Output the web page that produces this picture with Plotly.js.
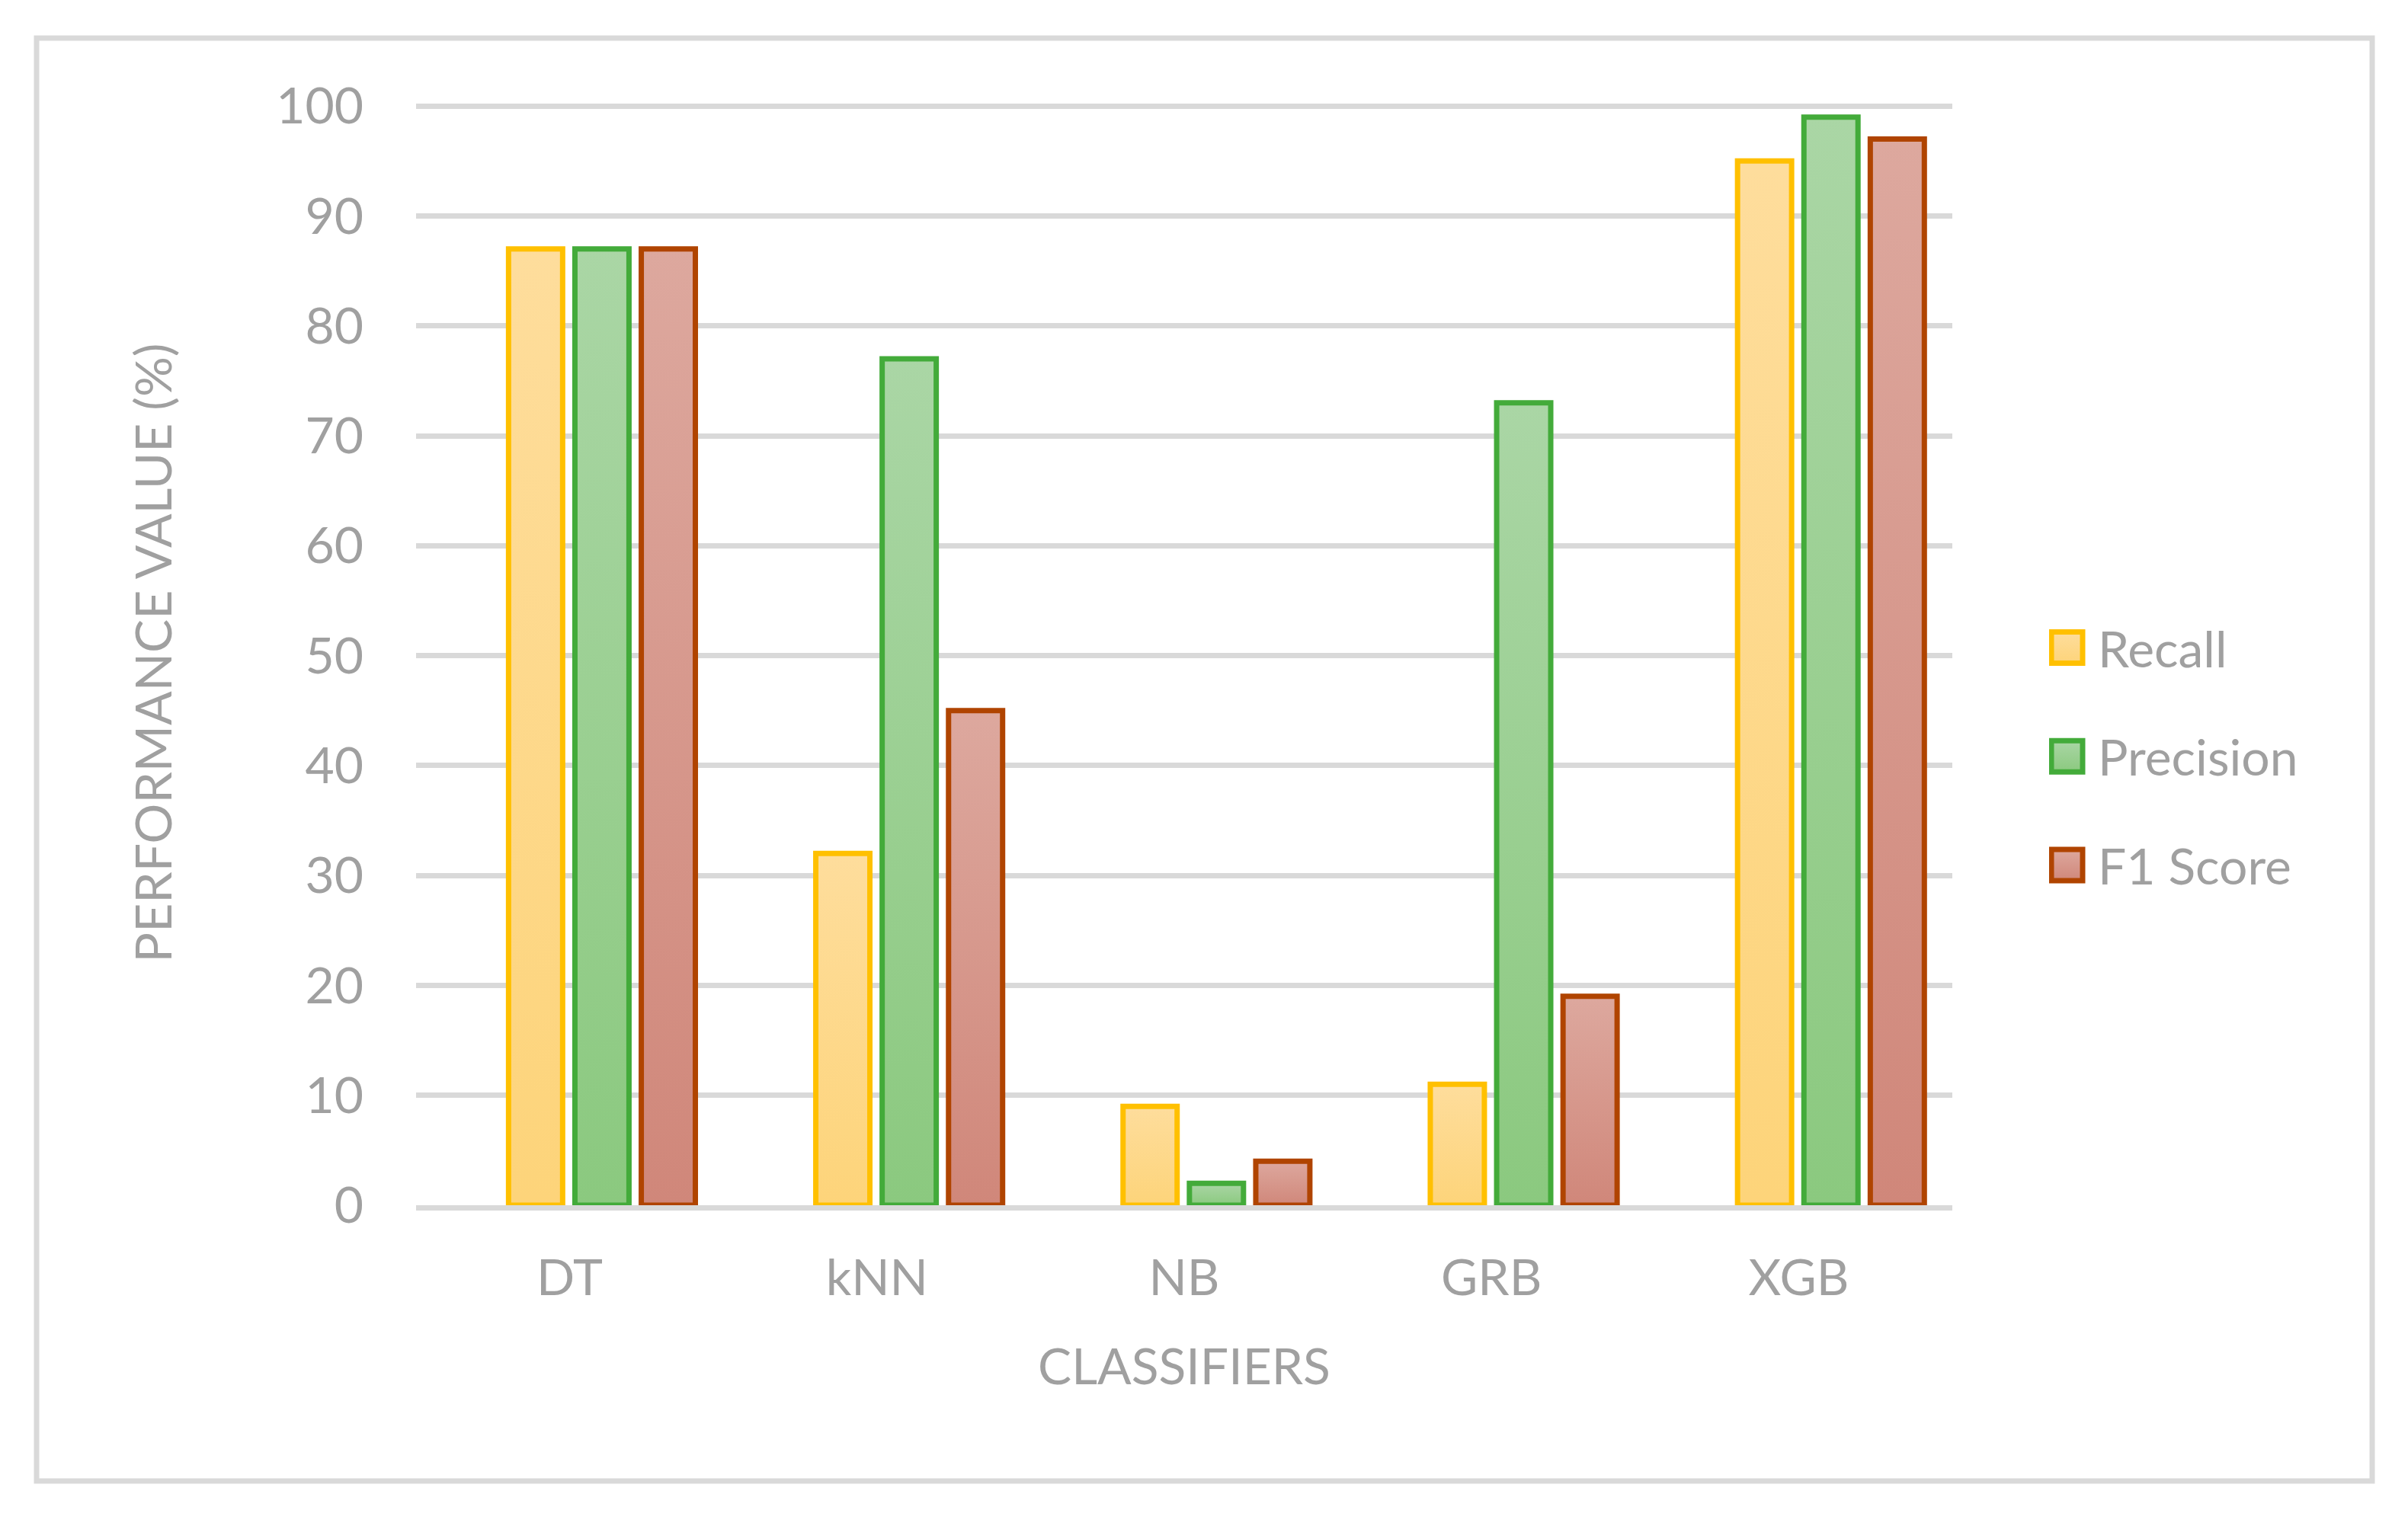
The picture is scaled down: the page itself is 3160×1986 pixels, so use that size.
<!DOCTYPE html>
<html>
<head>
<meta charset="utf-8">
<script src="https://cdn.plot.ly/plotly-3.0.1.min.js"></script>
<style>
html,body{margin:0;padding:0;background:#fff;}
#chart{width:3160px;height:1986px;}
</style>
</head>
<body>
<div id="chart"></div>
<script>
// ---- data ----
const categories = ['DT', 'kNN', 'NB', 'GRB', 'XGB'];
const seriesNames = ['Recall', 'Precision', 'F1 Score'];
const recall = [87, 32, 9, 11, 95];
const precision = [87, 77, 2, 73, 99];
const f1Score = [87, 45, 4, 19, 97];
const yTickVals = [0, 10, 20, 30, 40, 50, 60, 70, 80, 90, 100];
const xTitle = 'CLASSIFIERS';
const yTitle = 'PERFORMANCE VALUE (%)';

// ---- styles ----
const lineColors = ['#FFC000', '#43AB3A', '#B04400'];
const fillColors = ['#FDD98C', '#9CD094', '#D69888'];
const gradStops = [
  ['#FEDD9C', '#FDD47A'],
  ['#AAD6A5', '#8BC97F'],
  ['#DDA89E', '#D0877A']
];
const offsets = [-0.199, 0.017, 0.233];
const barWidth = 0.176;
const seriesValues = [recall, precision, f1Score];

const textColor = '#A0A0A0';
const fontFamily = "Lato, 'Open Sans', 'DejaVu Sans', sans-serif";
const fs = 66;

const traces = seriesValues.map((vals, i) => ({
  type: 'bar',
  name: seriesNames[i],
  x: categories,
  y: vals,
  offset: offsets[i],
  width: barWidth,
  legendgroup: 'g' + i,
  marker: {color: fillColors[i], line: {color: lineColors[i], width: 7}},
  hoverinfo: 'x+y+name'
}));

const W = 3160, H = 1986;
const mL = 546, mR = 598, mT = 132, mB = 404;
const pw = W - mL - mR, ph = H - mT - mB;
const px2x = p => (p - mL) / pw;
const px2y = p => (H - mB - p) / ph;

const layout = {
  width: W, height: H,
  margin: {l: mL, r: mR, t: mT, b: mB, pad: 0},
  paper_bgcolor: '#FFFFFF',
  plot_bgcolor: '#FFFFFF',
  font: {family: fontFamily, size: fs, color: textColor},
  barmode: 'overlay',
  showlegend: true,
  legend: {
    x: px2x(2689), xanchor: 'left',
    y: px2y(993), yanchor: 'middle',
    font: {family: fontFamily, size: fs, color: textColor},
    itemwidth: 54,
    tracegroupgap: 54,
    bgcolor: 'rgba(0,0,0,0)'
  },
  xaxis: {
    type: 'category',
    range: [-0.5, 4.5],
    showgrid: false,
    zeroline: false,
    showline: true,
    linecolor: '#D9D9D9',
    linewidth: 7,
    layer: 'above traces',
    ticks: '',
    ticklabelstandoff: 32,
    tickfont: {family: fontFamily, size: fs, color: textColor},
    title: {text: xTitle, standoff: 60, font: {family: fontFamily, size: fs, color: textColor}},
    fixedrange: true
  },
  yaxis: {
    range: [0, 100.5],
    tickvals: yTickVals,
    ticktext: yTickVals.map(String),
    showgrid: true,
    gridcolor: '#D9D9D9',
    gridwidth: 7,
    zeroline: false,
    showline: false,
    ticks: '',
    ticklabelstandoff: 68,
    tickfont: {family: fontFamily, size: fs, color: textColor},
    title: {text: yTitle, standoff: 115, font: {family: fontFamily, size: fs, color: textColor}},
    fixedrange: true
  },
  shapes: [{
    type: 'rect', xref: 'paper', yref: 'paper', layer: 'below',
    x0: px2x(48), x1: px2x(3113), y0: px2y(1944), y1: px2y(50),
    line: {color: '#D9D9D9', width: 7}, fillcolor: 'rgba(0,0,0,0)'
  }]
};

const gd = document.getElementById('chart');
Plotly.newPlot(gd, traces, layout, {displayModeBar: false, staticPlot: true}).then(() => {
  const svgNS = 'http://www.w3.org/2000/svg';
  const svg = gd.querySelector('svg.main-svg');
  let defs = svg.querySelector('defs');
  if (!defs) { defs = document.createElementNS(svgNS, 'defs'); svg.insertBefore(defs, svg.firstChild); }
  gradStops.forEach((st, i) => {
    const g = document.createElementNS(svgNS, 'linearGradient');
    g.setAttribute('id', 'bargrad' + i);
    g.setAttribute('x1', '0'); g.setAttribute('y1', '0');
    g.setAttribute('x2', '0'); g.setAttribute('y2', '1');
    [[0, st[0]], [1, st[1]]].forEach(([o, c]) => {
      const s = document.createElementNS(svgNS, 'stop');
      s.setAttribute('offset', o); s.setAttribute('stop-color', c);
      g.appendChild(s);
    });
    defs.appendChild(g);
  });
  const barTraces = gd.querySelectorAll('.barlayer .trace');
  barTraces.forEach((t, i) => {
    t.querySelectorAll('path').forEach(p => { p.style.fill = 'url(#bargrad' + i + ')'; });
  });
  const legTraces = gd.querySelectorAll('.legend .traces');
  legTraces.forEach((t, i) => {
    t.querySelectorAll('.legendpoints path').forEach(p => {
      p.removeAttribute('transform');
      p.setAttribute('d', 'M44,20.5H3V-20.5H44Z');
      p.style.strokeWidth = '7px';
      p.style.stroke = lineColors[i];
      p.style.fill = 'url(#bargrad' + i + ')';
    });
  });
});
</script>
</body>
</html>
